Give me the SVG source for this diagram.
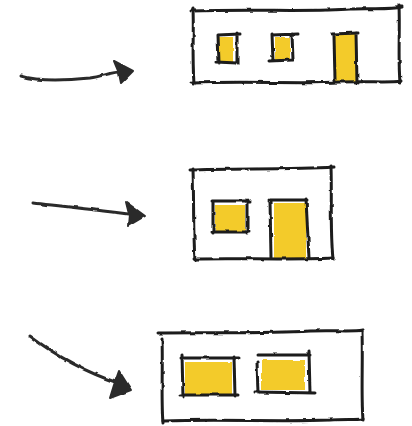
<svg xmlns="http://www.w3.org/2000/svg" width="412" height="426" viewBox="0 0 412 426">
<defs>
<filter id="rough" x="-5%" y="-5%" width="110%" height="110%">
<feTurbulence type="fractalNoise" baseFrequency="0.09" numOctaves="2" seed="3" result="n"/>
<feDisplacementMap in="SourceGraphic" in2="n" scale="2.8" xChannelSelector="R" yChannelSelector="G"/>
</filter>
<style>
.ln{fill:none;stroke:#1b1b1b;stroke-width:3;stroke-linecap:round;stroke-linejoin:round}
.fill{fill:#F3CB2A;stroke:none}
.arr{fill:none;stroke:#2a2a2a;stroke-width:3;stroke-linecap:round}
.head{fill:#2a2a2a;stroke:#2a2a2a;stroke-width:2;stroke-linejoin:round}
</style>
</defs>
<rect width="412" height="426" fill="#ffffff"/>

<g id="connectors" filter="url(#rough)">
<g id="arrow1">
<path class="arr" d="M21,76 C40,82 70,80 90,78 C102,76 110,73 119,72"/>
<path class="head" d="M114,61 L133,71 L121,83 L119,73 Z"/>
</g>
<g id="arrow2">
<path class="arr" d="M33,203 C60,206 90,209 128,214"/>
<path class="head" d="M126,202 L145,216 L128,226 L129,214 Z"/>
</g>
<g id="arrow3">
<path class="arr" d="M30,336 C55,355 85,372 118,383"/>
<path class="head" d="M119,371 L131,390 L110,398 L114,385 Z"/>
</g>
</g>

<g id="frame1" filter="url(#rough)">
<rect class="fill" x="219" y="37" width="14" height="25"/>
<rect class="fill" x="275" y="37" width="15" height="23"/>
<rect class="fill" x="335" y="34" width="21" height="49"/>
<path class="ln" d="M191,11 C250,9 320,12 350,9 C370,8 390,10 402,7"/>
<path class="ln" d="M193,9 C194,30 192,55 194,84"/>
<path class="ln" d="M192,83 C250,81 300,84 340,82 C370,81 390,83 401,81"/>
<path class="ln" d="M399,5 C400,30 398,60 400,82"/>
<path class="ln" d="M218,35 L219,63 M216,62 L237,63 M218,35 L240,34 M237,33 L237,64"/>
<path class="ln" d="M272,34 L273,61 M269,61 L293,60 M272,35 L298,34 M292,34 L293,60"/>
<path class="ln" d="M334,36 L335,80 M332,34 L358,33 M356,33 L357,83"/>
</g>

<g id="frame2" filter="url(#rough)">
<rect class="fill" x="215" y="205" width="30" height="26"/>
<rect class="fill" x="274" y="203" width="32" height="56"/>
<path class="ln" d="M190,170 C230,168 290,170 334,167"/>
<path class="ln" d="M193,169 C194,200 193,230 195,260"/>
<path class="ln" d="M194,259 C240,258 290,260 333,258"/>
<path class="ln" d="M331,166 C332,200 330,230 333,259"/>
<path class="ln" d="M213,201 L213,233 M212,232 L249,232 M212,201 L250,201 M247,199 L247,233"/>
<path class="ln" d="M270,200 L271,258 M269,200 L307,200 M306,199 L309,258"/>
</g>

<g id="frame3" filter="url(#rough)">
<rect class="fill" x="185" y="362" width="47" height="33"/>
<rect class="fill" x="262" y="360" width="43" height="30"/>
<path class="ln" d="M158,333 C200,332 260,334 310,331 C335,330 352,332 363,330"/>
<path class="ln" d="M162,338 C163,370 161,400 163,423"/>
<path class="ln" d="M163,421 C220,419 280,422 330,420 C345,419 355,420 363,419"/>
<path class="ln" d="M362,331 C363,360 361,395 363,420"/>
<path class="ln" d="M182,355 L183,397 M181,358 L238,358 M234,357 L235,396 M180,395 L238,395"/>
<path class="ln" d="M257,362 L258,393 M258,355 L310,355 M309,352 L310,393 M255,392 L315,393"/>
</g>
</svg>
